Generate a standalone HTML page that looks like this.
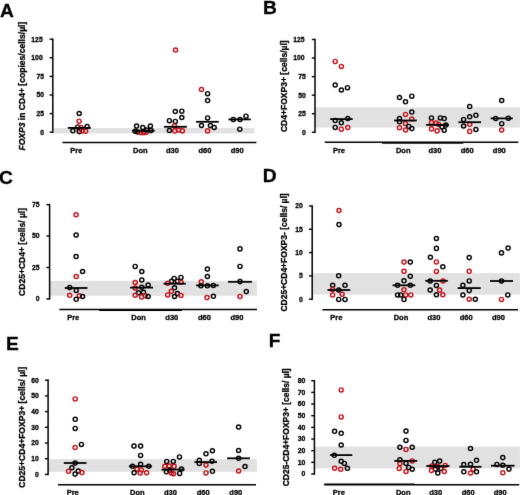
<!DOCTYPE html>
<html><head><meta charset="utf-8"><style>
html,body{margin:0;padding:0;background:#fff;}
svg{display:block;}
text{font-family:"Liberation Sans", sans-serif;fill:#000;stroke:#000;stroke-width:0.3px;stroke-linejoin:round;}
</style></head><body>
<svg width="520" height="495" viewBox="0 0 520 495">
<defs><filter id="sb" x="-5%" y="-5%" width="110%" height="110%" color-interpolation-filters="sRGB"><feConvolveMatrix order="3" kernelMatrix="0.00524 0.06192 0.00524 0.06192 0.73137 0.06192 0.00524 0.06192 0.00524" edgeMode="duplicate" preserveAlpha="false"/></filter></defs>
<rect width="520" height="495" fill="#fff"/>
<g filter="url(#sb)">
<text x="0.1" y="16.5" font-size="19.2" font-weight="bold" text-anchor="start" >A</text>
<text transform="translate(25.0,86.15) rotate(-90)" x="0" y="0" font-size="8.9" font-weight="bold" text-anchor="middle" textLength="128.9" lengthAdjust="spacingAndGlyphs"><tspan font-style="italic">FOXP3</tspan> in CD4+ [copies/cells/µl]</text>
<rect x="53.5" y="128" width="200.80" height="5.40" fill="#e1e1e1"/>
<line x1="52.8" y1="38.449999999999974" x2="52.8" y2="132.95" stroke="#000" stroke-width="1.5"/>
<line x1="49.599999999999994" y1="39.199999999999974" x2="52.8" y2="39.199999999999974" stroke="#000" stroke-width="1.4"/>
<text x="42.7" y="41.6" font-size="6.8" font-weight="bold" text-anchor="end" >125</text>
<line x1="49.599999999999994" y1="57.79999999999998" x2="52.8" y2="57.79999999999998" stroke="#000" stroke-width="1.4"/>
<text x="42.7" y="60.2" font-size="6.8" font-weight="bold" text-anchor="end" >100</text>
<line x1="49.599999999999994" y1="76.39999999999998" x2="52.8" y2="76.39999999999998" stroke="#000" stroke-width="1.4"/>
<text x="44.0" y="78.8" font-size="6.8" font-weight="bold" text-anchor="end" >75</text>
<line x1="49.599999999999994" y1="94.99999999999999" x2="52.8" y2="94.99999999999999" stroke="#000" stroke-width="1.4"/>
<text x="44.0" y="97.4" font-size="6.8" font-weight="bold" text-anchor="end" >50</text>
<line x1="49.599999999999994" y1="113.6" x2="52.8" y2="113.6" stroke="#000" stroke-width="1.4"/>
<text x="44.0" y="116.0" font-size="6.8" font-weight="bold" text-anchor="end" >25</text>
<line x1="49.599999999999994" y1="132.2" x2="52.8" y2="132.2" stroke="#000" stroke-width="1.4"/>
<text x="44.0" y="134.6" font-size="6.8" font-weight="bold" text-anchor="end" >0</text>
<line x1="62.5" y1="142.4" x2="256.4" y2="142.4" stroke="#000" stroke-width="1.5"/>
<text x="76.2" y="152.5" font-size="7.5" font-weight="bold" text-anchor="middle" >Pre</text>
<text x="140.3" y="152.5" font-size="7.5" font-weight="bold" text-anchor="middle" >Don</text>
<text x="172.4" y="152.5" font-size="7.5" font-weight="bold" text-anchor="middle" >d30</text>
<text x="204.9" y="152.5" font-size="7.5" font-weight="bold" text-anchor="middle" >d60</text>
<text x="237.2" y="152.5" font-size="7.5" font-weight="bold" text-anchor="middle" >d90</text>
<text x="262.9" y="13.5" font-size="19.2" font-weight="bold" text-anchor="start" >B</text>
<text transform="translate(287.2,86.2) rotate(-90)" x="0" y="0" font-size="8.9" font-weight="bold" text-anchor="middle" textLength="91.8" lengthAdjust="spacingAndGlyphs">CD4+FOXP3+ [cells/µl]</text>
<rect x="315" y="107.3" width="205.00" height="20.30" fill="#e1e1e1"/>
<line x1="315.0" y1="38.750000000000014" x2="315.0" y2="133.05" stroke="#000" stroke-width="1.5"/>
<line x1="311.8" y1="39.500000000000014" x2="315.0" y2="39.500000000000014" stroke="#000" stroke-width="1.4"/>
<text x="304.5" y="41.9" font-size="6.8" font-weight="bold" text-anchor="end" >125</text>
<line x1="311.8" y1="58.06000000000002" x2="315.0" y2="58.06000000000002" stroke="#000" stroke-width="1.4"/>
<text x="304.5" y="60.46" font-size="6.8" font-weight="bold" text-anchor="end" >100</text>
<line x1="311.8" y1="76.62000000000002" x2="315.0" y2="76.62000000000002" stroke="#000" stroke-width="1.4"/>
<text x="305.8" y="79.02" font-size="6.8" font-weight="bold" text-anchor="end" >75</text>
<line x1="311.8" y1="95.18" x2="315.0" y2="95.18" stroke="#000" stroke-width="1.4"/>
<text x="305.8" y="97.58" font-size="6.8" font-weight="bold" text-anchor="end" >50</text>
<line x1="311.8" y1="113.74000000000001" x2="315.0" y2="113.74000000000001" stroke="#000" stroke-width="1.4"/>
<text x="305.8" y="116.14" font-size="6.8" font-weight="bold" text-anchor="end" >25</text>
<line x1="311.8" y1="132.3" x2="315.0" y2="132.3" stroke="#000" stroke-width="1.4"/>
<text x="305.8" y="134.7" font-size="6.8" font-weight="bold" text-anchor="end" >0</text>
<line x1="324.8" y1="142.2" x2="518.4" y2="142.2" stroke="#000" stroke-width="1.5"/>
<line x1="382" y1="143.0" x2="463.3" y2="143.0" stroke="#000" stroke-width="1.5"/>
<text x="339.0" y="152.9" font-size="7.5" font-weight="bold" text-anchor="middle" >Pre</text>
<text x="403.2" y="152.9" font-size="7.5" font-weight="bold" text-anchor="middle" >Don</text>
<text x="435.0" y="152.9" font-size="7.5" font-weight="bold" text-anchor="middle" >d30</text>
<text x="467.2" y="152.9" font-size="7.5" font-weight="bold" text-anchor="middle" >d60</text>
<text x="499.3" y="152.9" font-size="7.5" font-weight="bold" text-anchor="middle" >d90</text>
<text x="-1.1" y="184.1" font-size="19.2" font-weight="bold" text-anchor="start" >C</text>
<text transform="translate(25.4,251.95) rotate(-90)" x="0" y="0" font-size="8.9" font-weight="bold" text-anchor="middle" textLength="87.9" lengthAdjust="spacingAndGlyphs">CD25+CD4+ [cells/ µl]</text>
<rect x="49.5" y="280.9" width="207.40" height="14.90" fill="#e1e1e1"/>
<line x1="49.6" y1="203.89" x2="49.6" y2="299.65" stroke="#000" stroke-width="1.5"/>
<line x1="46.4" y1="204.64" x2="49.6" y2="204.64" stroke="#000" stroke-width="1.4"/>
<text x="39.6" y="207.04" font-size="6.8" font-weight="bold" text-anchor="end" >75</text>
<line x1="46.4" y1="236.05999999999997" x2="49.6" y2="236.05999999999997" stroke="#000" stroke-width="1.4"/>
<text x="39.6" y="238.46" font-size="6.8" font-weight="bold" text-anchor="end" >50</text>
<line x1="46.4" y1="267.47999999999996" x2="49.6" y2="267.47999999999996" stroke="#000" stroke-width="1.4"/>
<text x="39.6" y="269.88" font-size="6.8" font-weight="bold" text-anchor="end" >25</text>
<line x1="46.4" y1="298.9" x2="49.6" y2="298.9" stroke="#000" stroke-width="1.4"/>
<text x="39.6" y="301.3" font-size="6.8" font-weight="bold" text-anchor="end" >0</text>
<line x1="59.4" y1="309.4" x2="257" y2="309.4" stroke="#000" stroke-width="1.5"/>
<line x1="99.2" y1="310.2" x2="182" y2="310.2" stroke="#000" stroke-width="1.5"/>
<text x="73.2" y="320.1" font-size="7.5" font-weight="bold" text-anchor="middle" >Pre</text>
<text x="138.6" y="320.1" font-size="7.5" font-weight="bold" text-anchor="middle" >Don</text>
<text x="171.8" y="320.1" font-size="7.5" font-weight="bold" text-anchor="middle" >d30</text>
<text x="204.5" y="320.1" font-size="7.5" font-weight="bold" text-anchor="middle" >d60</text>
<text x="237.0" y="320.1" font-size="7.5" font-weight="bold" text-anchor="middle" >d90</text>
<text x="262.7" y="181.6" font-size="19.2" font-weight="bold" text-anchor="start" >D</text>
<text transform="translate(287.4,252.45) rotate(-90)" x="0" y="0" font-size="8.9" font-weight="bold" text-anchor="middle" textLength="118.3" lengthAdjust="spacingAndGlyphs">CD25+CD4+FOXP3- [cells/ µl]</text>
<rect x="312.4" y="273.1" width="207.60" height="21.50" fill="#e1e1e1"/>
<line x1="312.2" y1="205.25" x2="312.2" y2="299.95" stroke="#000" stroke-width="1.5"/>
<line x1="309.0" y1="206.0" x2="312.2" y2="206.0" stroke="#000" stroke-width="1.4"/>
<text x="302.8" y="208.4" font-size="6.8" font-weight="bold" text-anchor="end" >20</text>
<line x1="309.0" y1="229.29999999999998" x2="312.2" y2="229.29999999999998" stroke="#000" stroke-width="1.4"/>
<text x="302.8" y="231.7" font-size="6.8" font-weight="bold" text-anchor="end" >15</text>
<line x1="309.0" y1="252.6" x2="312.2" y2="252.6" stroke="#000" stroke-width="1.4"/>
<text x="302.8" y="255.0" font-size="6.8" font-weight="bold" text-anchor="end" >10</text>
<line x1="309.0" y1="275.9" x2="312.2" y2="275.9" stroke="#000" stroke-width="1.4"/>
<text x="302.8" y="278.3" font-size="6.8" font-weight="bold" text-anchor="end" >5</text>
<line x1="309.0" y1="299.2" x2="312.2" y2="299.2" stroke="#000" stroke-width="1.4"/>
<text x="302.8" y="301.6" font-size="6.8" font-weight="bold" text-anchor="end" >0</text>
<line x1="322.4" y1="309.8" x2="518" y2="309.8" stroke="#000" stroke-width="1.5"/>
<text x="336.4" y="320.4" font-size="7.5" font-weight="bold" text-anchor="middle" >Pre</text>
<text x="401.0" y="320.4" font-size="7.5" font-weight="bold" text-anchor="middle" >Don</text>
<text x="434.0" y="320.4" font-size="7.5" font-weight="bold" text-anchor="middle" >d30</text>
<text x="466.2" y="320.4" font-size="7.5" font-weight="bold" text-anchor="middle" >d60</text>
<text x="498.4" y="320.4" font-size="7.5" font-weight="bold" text-anchor="middle" >d90</text>
<text x="5.9" y="349.8" font-size="19.2" font-weight="bold" text-anchor="start" >E</text>
<text transform="translate(25.4,427.25) rotate(-90)" x="0" y="0" font-size="8.9" font-weight="bold" text-anchor="middle" textLength="121.1" lengthAdjust="spacingAndGlyphs">CD25+CD4+FOXP3+ [cells/ µl]</text>
<rect x="48.3" y="459.1" width="208.60" height="12.80" fill="#e1e1e1"/>
<line x1="48.1" y1="379.45" x2="48.1" y2="475.15" stroke="#000" stroke-width="1.5"/>
<line x1="44.9" y1="380.2" x2="48.1" y2="380.2" stroke="#000" stroke-width="1.4"/>
<text x="38.8" y="382.6" font-size="6.8" font-weight="bold" text-anchor="end" >60</text>
<line x1="44.9" y1="395.9" x2="48.1" y2="395.9" stroke="#000" stroke-width="1.4"/>
<text x="38.8" y="398.3" font-size="6.8" font-weight="bold" text-anchor="end" >50</text>
<line x1="44.9" y1="411.59999999999997" x2="48.1" y2="411.59999999999997" stroke="#000" stroke-width="1.4"/>
<text x="38.8" y="414.0" font-size="6.8" font-weight="bold" text-anchor="end" >40</text>
<line x1="44.9" y1="427.29999999999995" x2="48.1" y2="427.29999999999995" stroke="#000" stroke-width="1.4"/>
<text x="38.8" y="429.7" font-size="6.8" font-weight="bold" text-anchor="end" >30</text>
<line x1="44.9" y1="443.0" x2="48.1" y2="443.0" stroke="#000" stroke-width="1.4"/>
<text x="38.8" y="445.4" font-size="6.8" font-weight="bold" text-anchor="end" >20</text>
<line x1="44.9" y1="458.7" x2="48.1" y2="458.7" stroke="#000" stroke-width="1.4"/>
<text x="38.8" y="461.1" font-size="6.8" font-weight="bold" text-anchor="end" >10</text>
<line x1="44.9" y1="474.4" x2="48.1" y2="474.4" stroke="#000" stroke-width="1.4"/>
<text x="38.8" y="476.8" font-size="6.8" font-weight="bold" text-anchor="end" >0</text>
<line x1="58" y1="484.8" x2="256" y2="484.8" stroke="#000" stroke-width="1.5"/>
<text x="72.7" y="495.0" font-size="7.5" font-weight="bold" text-anchor="middle" >Pre</text>
<text x="137.4" y="495.0" font-size="7.5" font-weight="bold" text-anchor="middle" >Don</text>
<text x="170.4" y="495.0" font-size="7.5" font-weight="bold" text-anchor="middle" >d30</text>
<text x="203.1" y="495.0" font-size="7.5" font-weight="bold" text-anchor="middle" >d60</text>
<text x="235.8" y="495.0" font-size="7.5" font-weight="bold" text-anchor="middle" >d90</text>
<text x="268.7" y="347.4" font-size="19.2" font-weight="bold" text-anchor="start" >F</text>
<text transform="translate(289.2,427.3) rotate(-90)" x="0" y="0" font-size="8.9" font-weight="bold" text-anchor="middle" textLength="118.0" lengthAdjust="spacingAndGlyphs">CD25-CD4+FOXP3+ [cells/ µl]</text>
<rect x="314.4" y="446.6" width="205.60" height="21.80" fill="#e1e1e1"/>
<line x1="314.4" y1="379.97" x2="314.4" y2="474.75" stroke="#000" stroke-width="1.5"/>
<line x1="311.2" y1="380.72" x2="314.4" y2="380.72" stroke="#000" stroke-width="1.4"/>
<text x="305.4" y="383.12" font-size="6.8" font-weight="bold" text-anchor="end" >80</text>
<line x1="311.2" y1="392.38" x2="314.4" y2="392.38" stroke="#000" stroke-width="1.4"/>
<text x="305.4" y="394.78" font-size="6.8" font-weight="bold" text-anchor="end" >70</text>
<line x1="311.2" y1="404.04" x2="314.4" y2="404.04" stroke="#000" stroke-width="1.4"/>
<text x="305.4" y="406.44" font-size="6.8" font-weight="bold" text-anchor="end" >60</text>
<line x1="311.2" y1="415.7" x2="314.4" y2="415.7" stroke="#000" stroke-width="1.4"/>
<text x="305.4" y="418.1" font-size="6.8" font-weight="bold" text-anchor="end" >50</text>
<line x1="311.2" y1="427.36" x2="314.4" y2="427.36" stroke="#000" stroke-width="1.4"/>
<text x="305.4" y="429.76" font-size="6.8" font-weight="bold" text-anchor="end" >40</text>
<line x1="311.2" y1="439.02" x2="314.4" y2="439.02" stroke="#000" stroke-width="1.4"/>
<text x="305.4" y="441.42" font-size="6.8" font-weight="bold" text-anchor="end" >30</text>
<line x1="311.2" y1="450.68" x2="314.4" y2="450.68" stroke="#000" stroke-width="1.4"/>
<text x="305.4" y="453.08" font-size="6.8" font-weight="bold" text-anchor="end" >20</text>
<line x1="311.2" y1="462.34" x2="314.4" y2="462.34" stroke="#000" stroke-width="1.4"/>
<text x="305.4" y="464.74" font-size="6.8" font-weight="bold" text-anchor="end" >10</text>
<line x1="311.2" y1="474.0" x2="314.4" y2="474.0" stroke="#000" stroke-width="1.4"/>
<text x="305.4" y="476.4" font-size="6.8" font-weight="bold" text-anchor="end" >0</text>
<line x1="324.2" y1="484.7" x2="519.2" y2="484.7" stroke="#000" stroke-width="1.5"/>
<line x1="324.2" y1="484.2" x2="414.6" y2="484.2" stroke="#000" stroke-width="1.2"/>
<text x="338.9" y="495.0" font-size="7.5" font-weight="bold" text-anchor="middle" >Pre</text>
<text x="403.2" y="495.0" font-size="7.5" font-weight="bold" text-anchor="middle" >Don</text>
<text x="435.6" y="495.0" font-size="7.5" font-weight="bold" text-anchor="middle" >d30</text>
<text x="468.1" y="495.0" font-size="7.5" font-weight="bold" text-anchor="middle" >d60</text>
<text x="500.1" y="495.0" font-size="7.5" font-weight="bold" text-anchor="middle" >d90</text>
<circle cx="79.2" cy="113.5" r="2.05" fill="none" stroke="#000" stroke-width="1.45"/>
<circle cx="79.1" cy="121.2" r="2.05" fill="none" stroke="#c41119" stroke-width="1.45"/>
<circle cx="77.8" cy="126.9" r="2.05" fill="none" stroke="#000" stroke-width="1.45"/>
<circle cx="80.9" cy="127.4" r="2.05" fill="none" stroke="#c41119" stroke-width="1.45"/>
<circle cx="87.1" cy="126.5" r="2.05" fill="none" stroke="#000" stroke-width="1.45"/>
<circle cx="72.9" cy="130.8" r="2.05" fill="none" stroke="#000" stroke-width="1.45"/>
<circle cx="79.3" cy="131.6" r="2.05" fill="none" stroke="#000" stroke-width="1.45"/>
<circle cx="82.0" cy="131.0" r="2.05" fill="none" stroke="#c41119" stroke-width="1.45"/>
<circle cx="85.6" cy="131.2" r="2.05" fill="none" stroke="#c41119" stroke-width="1.45"/>
<circle cx="136.6" cy="126.1" r="2.05" fill="none" stroke="#000" stroke-width="1.45"/>
<circle cx="150.4" cy="126.1" r="2.05" fill="none" stroke="#000" stroke-width="1.45"/>
<circle cx="142.8" cy="127.6" r="2.05" fill="none" stroke="#000" stroke-width="1.45"/>
<circle cx="135.2" cy="131.2" r="2.05" fill="none" stroke="#000" stroke-width="1.45"/>
<circle cx="137.6" cy="132.0" r="2.05" fill="none" stroke="#000" stroke-width="1.45"/>
<circle cx="140.6" cy="132.6" r="2.05" fill="none" stroke="#c41119" stroke-width="1.45"/>
<circle cx="143.4" cy="132.8" r="2.05" fill="none" stroke="#c41119" stroke-width="1.45"/>
<circle cx="146.0" cy="132.4" r="2.05" fill="none" stroke="#c41119" stroke-width="1.45"/>
<circle cx="146.8" cy="130.0" r="2.05" fill="none" stroke="#000" stroke-width="1.45"/>
<circle cx="151.0" cy="130.6" r="2.05" fill="none" stroke="#000" stroke-width="1.45"/>
<circle cx="175.5" cy="50.1" r="2.05" fill="none" stroke="#c41119" stroke-width="1.45"/>
<circle cx="175.3" cy="111.5" r="2.05" fill="none" stroke="#000" stroke-width="1.45"/>
<circle cx="181.8" cy="111.2" r="2.05" fill="none" stroke="#000" stroke-width="1.45"/>
<circle cx="181.8" cy="117.5" r="2.05" fill="none" stroke="#000" stroke-width="1.45"/>
<circle cx="169.4" cy="120.7" r="2.05" fill="none" stroke="#000" stroke-width="1.45"/>
<circle cx="175.3" cy="121.4" r="2.05" fill="none" stroke="#000" stroke-width="1.45"/>
<circle cx="174.4" cy="125.9" r="2.05" fill="none" stroke="#c41119" stroke-width="1.45"/>
<circle cx="169.4" cy="130.5" r="2.05" fill="none" stroke="#000" stroke-width="1.45"/>
<circle cx="174.8" cy="130.9" r="2.05" fill="none" stroke="#c41119" stroke-width="1.45"/>
<circle cx="178.5" cy="130.0" r="2.05" fill="none" stroke="#c41119" stroke-width="1.45"/>
<circle cx="182.4" cy="130.9" r="2.05" fill="none" stroke="#c41119" stroke-width="1.45"/>
<circle cx="201.5" cy="89.5" r="2.05" fill="none" stroke="#c41119" stroke-width="1.45"/>
<circle cx="207.6" cy="93.7" r="2.05" fill="none" stroke="#000" stroke-width="1.45"/>
<circle cx="207.6" cy="100.6" r="2.05" fill="none" stroke="#000" stroke-width="1.45"/>
<circle cx="207.6" cy="117.9" r="2.05" fill="none" stroke="#000" stroke-width="1.45"/>
<circle cx="201.5" cy="125.5" r="2.05" fill="none" stroke="#000" stroke-width="1.45"/>
<circle cx="210.4" cy="125.5" r="2.05" fill="none" stroke="#000" stroke-width="1.45"/>
<circle cx="214.2" cy="127.5" r="2.05" fill="none" stroke="#000" stroke-width="1.45"/>
<circle cx="207.6" cy="130.9" r="2.05" fill="none" stroke="#c41119" stroke-width="1.45"/>
<circle cx="233.3" cy="119.4" r="2.05" fill="none" stroke="#000" stroke-width="1.45"/>
<circle cx="240.0" cy="119.5" r="2.05" fill="none" stroke="#000" stroke-width="1.45"/>
<circle cx="246.0" cy="116.2" r="2.05" fill="none" stroke="#000" stroke-width="1.45"/>
<circle cx="239.8" cy="129.2" r="2.05" fill="none" stroke="#000" stroke-width="1.45"/>
<circle cx="335.2" cy="61.4" r="2.05" fill="none" stroke="#c41119" stroke-width="1.45"/>
<circle cx="341.4" cy="66.4" r="2.05" fill="none" stroke="#c41119" stroke-width="1.45"/>
<circle cx="335.2" cy="85.0" r="2.05" fill="none" stroke="#000" stroke-width="1.45"/>
<circle cx="341.4" cy="90.0" r="2.05" fill="none" stroke="#000" stroke-width="1.45"/>
<circle cx="347.5" cy="87.7" r="2.05" fill="none" stroke="#000" stroke-width="1.45"/>
<circle cx="335.2" cy="120.6" r="2.05" fill="none" stroke="#000" stroke-width="1.45"/>
<circle cx="341.3" cy="122.8" r="2.05" fill="none" stroke="#000" stroke-width="1.45"/>
<circle cx="347.8" cy="118.5" r="2.05" fill="none" stroke="#000" stroke-width="1.45"/>
<circle cx="335.2" cy="127.4" r="2.05" fill="none" stroke="#000" stroke-width="1.45"/>
<circle cx="341.3" cy="129.2" r="2.05" fill="none" stroke="#c41119" stroke-width="1.45"/>
<circle cx="347.8" cy="127.6" r="2.05" fill="none" stroke="#c41119" stroke-width="1.45"/>
<circle cx="399.5" cy="97.5" r="2.05" fill="none" stroke="#000" stroke-width="1.45"/>
<circle cx="405.5" cy="101.8" r="2.05" fill="none" stroke="#000" stroke-width="1.45"/>
<circle cx="411.8" cy="96.2" r="2.05" fill="none" stroke="#000" stroke-width="1.45"/>
<circle cx="411.8" cy="112.1" r="2.05" fill="none" stroke="#000" stroke-width="1.45"/>
<circle cx="405.5" cy="114.4" r="2.05" fill="none" stroke="#c41119" stroke-width="1.45"/>
<circle cx="399.5" cy="118.6" r="2.05" fill="none" stroke="#000" stroke-width="1.45"/>
<circle cx="411.8" cy="119.1" r="2.05" fill="none" stroke="#c41119" stroke-width="1.45"/>
<circle cx="399.5" cy="121.8" r="2.05" fill="none" stroke="#000" stroke-width="1.45"/>
<circle cx="405.5" cy="123.6" r="2.05" fill="none" stroke="#c41119" stroke-width="1.45"/>
<circle cx="408.8" cy="126.4" r="2.05" fill="none" stroke="#000" stroke-width="1.45"/>
<circle cx="411.8" cy="128.6" r="2.05" fill="none" stroke="#000" stroke-width="1.45"/>
<circle cx="399.5" cy="127.7" r="2.05" fill="none" stroke="#c41119" stroke-width="1.45"/>
<circle cx="405.5" cy="130.0" r="2.05" fill="none" stroke="#c41119" stroke-width="1.45"/>
<circle cx="431.5" cy="117.9" r="2.05" fill="none" stroke="#000" stroke-width="1.45"/>
<circle cx="440.4" cy="117.9" r="2.05" fill="none" stroke="#000" stroke-width="1.45"/>
<circle cx="444.2" cy="118.6" r="2.05" fill="none" stroke="#000" stroke-width="1.45"/>
<circle cx="431.5" cy="122.5" r="2.05" fill="none" stroke="#c41119" stroke-width="1.45"/>
<circle cx="436.2" cy="123.1" r="2.05" fill="none" stroke="#c41119" stroke-width="1.45"/>
<circle cx="438.7" cy="124.4" r="2.05" fill="none" stroke="#c41119" stroke-width="1.45"/>
<circle cx="445.9" cy="125.0" r="2.05" fill="none" stroke="#000" stroke-width="1.45"/>
<circle cx="442.0" cy="127.0" r="2.05" fill="none" stroke="#000" stroke-width="1.45"/>
<circle cx="431.5" cy="128.9" r="2.05" fill="none" stroke="#c41119" stroke-width="1.45"/>
<circle cx="437.1" cy="130.9" r="2.05" fill="none" stroke="#c41119" stroke-width="1.45"/>
<circle cx="444.2" cy="130.2" r="2.05" fill="none" stroke="#000" stroke-width="1.45"/>
<circle cx="469.7" cy="106.6" r="2.05" fill="none" stroke="#000" stroke-width="1.45"/>
<circle cx="475.9" cy="115.3" r="2.05" fill="none" stroke="#000" stroke-width="1.45"/>
<circle cx="469.7" cy="116.8" r="2.05" fill="none" stroke="#000" stroke-width="1.45"/>
<circle cx="463.6" cy="119.6" r="2.05" fill="none" stroke="#000" stroke-width="1.45"/>
<circle cx="469.7" cy="124.3" r="2.05" fill="none" stroke="#c41119" stroke-width="1.45"/>
<circle cx="463.6" cy="126.0" r="2.05" fill="none" stroke="#000" stroke-width="1.45"/>
<circle cx="475.9" cy="129.5" r="2.05" fill="none" stroke="#000" stroke-width="1.45"/>
<circle cx="469.7" cy="131.4" r="2.05" fill="none" stroke="#c41119" stroke-width="1.45"/>
<circle cx="501.7" cy="100.5" r="2.05" fill="none" stroke="#000" stroke-width="1.45"/>
<circle cx="495.7" cy="118.4" r="2.05" fill="none" stroke="#000" stroke-width="1.45"/>
<circle cx="508.3" cy="118.2" r="2.05" fill="none" stroke="#000" stroke-width="1.45"/>
<circle cx="501.7" cy="123.7" r="2.05" fill="none" stroke="#000" stroke-width="1.45"/>
<circle cx="501.7" cy="130.1" r="2.05" fill="none" stroke="#c41119" stroke-width="1.45"/>
<circle cx="76.1" cy="214.7" r="2.05" fill="none" stroke="#c41119" stroke-width="1.45"/>
<circle cx="76.1" cy="235.1" r="2.05" fill="none" stroke="#000" stroke-width="1.45"/>
<circle cx="76.1" cy="256.5" r="2.05" fill="none" stroke="#000" stroke-width="1.45"/>
<circle cx="82.6" cy="271.5" r="2.05" fill="none" stroke="#000" stroke-width="1.45"/>
<circle cx="76.2" cy="276.5" r="2.05" fill="none" stroke="#c41119" stroke-width="1.45"/>
<circle cx="69.7" cy="287.6" r="2.05" fill="none" stroke="#000" stroke-width="1.45"/>
<circle cx="76.2" cy="290.5" r="2.05" fill="none" stroke="#000" stroke-width="1.45"/>
<circle cx="69.7" cy="295.3" r="2.05" fill="none" stroke="#c41119" stroke-width="1.45"/>
<circle cx="79.4" cy="295.7" r="2.05" fill="none" stroke="#c41119" stroke-width="1.45"/>
<circle cx="82.6" cy="296.5" r="2.05" fill="none" stroke="#000" stroke-width="1.45"/>
<circle cx="76.2" cy="299.3" r="2.05" fill="none" stroke="#000" stroke-width="1.45"/>
<circle cx="135.2" cy="266.4" r="2.05" fill="none" stroke="#000" stroke-width="1.45"/>
<circle cx="141.8" cy="271.5" r="2.05" fill="none" stroke="#000" stroke-width="1.45"/>
<circle cx="141.8" cy="280.0" r="2.05" fill="none" stroke="#000" stroke-width="1.45"/>
<circle cx="135.2" cy="282.5" r="2.05" fill="none" stroke="#c41119" stroke-width="1.45"/>
<circle cx="148.1" cy="285.0" r="2.05" fill="none" stroke="#000" stroke-width="1.45"/>
<circle cx="141.8" cy="287.3" r="2.05" fill="none" stroke="#000" stroke-width="1.45"/>
<circle cx="135.2" cy="288.0" r="2.05" fill="none" stroke="#c41119" stroke-width="1.45"/>
<circle cx="138.6" cy="292.7" r="2.05" fill="none" stroke="#000" stroke-width="1.45"/>
<circle cx="143.5" cy="292.3" r="2.05" fill="none" stroke="#000" stroke-width="1.45"/>
<circle cx="135.2" cy="295.2" r="2.05" fill="none" stroke="#c41119" stroke-width="1.45"/>
<circle cx="141.6" cy="296.9" r="2.05" fill="none" stroke="#c41119" stroke-width="1.45"/>
<circle cx="145.2" cy="295.7" r="2.05" fill="none" stroke="#c41119" stroke-width="1.45"/>
<circle cx="148.1" cy="296.5" r="2.05" fill="none" stroke="#000" stroke-width="1.45"/>
<circle cx="174.2" cy="278.4" r="2.05" fill="none" stroke="#000" stroke-width="1.45"/>
<circle cx="181.0" cy="277.4" r="2.05" fill="none" stroke="#000" stroke-width="1.45"/>
<circle cx="171.6" cy="281.3" r="2.05" fill="none" stroke="#000" stroke-width="1.45"/>
<circle cx="177.4" cy="281.3" r="2.05" fill="none" stroke="#000" stroke-width="1.45"/>
<circle cx="167.7" cy="283.3" r="2.05" fill="none" stroke="#c41119" stroke-width="1.45"/>
<circle cx="181.0" cy="282.3" r="2.05" fill="none" stroke="#c41119" stroke-width="1.45"/>
<circle cx="174.5" cy="287.8" r="2.05" fill="none" stroke="#000" stroke-width="1.45"/>
<circle cx="171.3" cy="291.3" r="2.05" fill="none" stroke="#c41119" stroke-width="1.45"/>
<circle cx="167.7" cy="294.9" r="2.05" fill="none" stroke="#c41119" stroke-width="1.45"/>
<circle cx="177.4" cy="293.6" r="2.05" fill="none" stroke="#000" stroke-width="1.45"/>
<circle cx="174.5" cy="296.5" r="2.05" fill="none" stroke="#000" stroke-width="1.45"/>
<circle cx="181.0" cy="295.5" r="2.05" fill="none" stroke="#c41119" stroke-width="1.45"/>
<circle cx="207.4" cy="269.1" r="2.05" fill="none" stroke="#000" stroke-width="1.45"/>
<circle cx="207.4" cy="276.5" r="2.05" fill="none" stroke="#000" stroke-width="1.45"/>
<circle cx="201.3" cy="281.8" r="2.05" fill="none" stroke="#c41119" stroke-width="1.45"/>
<circle cx="200.9" cy="285.8" r="2.05" fill="none" stroke="#000" stroke-width="1.45"/>
<circle cx="207.4" cy="285.8" r="2.05" fill="none" stroke="#000" stroke-width="1.45"/>
<circle cx="213.4" cy="285.4" r="2.05" fill="none" stroke="#000" stroke-width="1.45"/>
<circle cx="207.0" cy="297.6" r="2.05" fill="none" stroke="#c41119" stroke-width="1.45"/>
<circle cx="213.4" cy="296.3" r="2.05" fill="none" stroke="#000" stroke-width="1.45"/>
<circle cx="240.0" cy="248.9" r="2.05" fill="none" stroke="#000" stroke-width="1.45"/>
<circle cx="240.0" cy="266.4" r="2.05" fill="none" stroke="#000" stroke-width="1.45"/>
<circle cx="240.0" cy="281.6" r="2.05" fill="none" stroke="#000" stroke-width="1.45"/>
<circle cx="246.3" cy="291.6" r="2.05" fill="none" stroke="#000" stroke-width="1.45"/>
<circle cx="240.0" cy="296.4" r="2.05" fill="none" stroke="#c41119" stroke-width="1.45"/>
<circle cx="339.0" cy="210.5" r="2.05" fill="none" stroke="#c41119" stroke-width="1.45"/>
<circle cx="339.0" cy="224.6" r="2.05" fill="none" stroke="#000" stroke-width="1.45"/>
<circle cx="338.7" cy="275.8" r="2.05" fill="none" stroke="#000" stroke-width="1.45"/>
<circle cx="332.7" cy="285.2" r="2.05" fill="none" stroke="#000" stroke-width="1.45"/>
<circle cx="345.0" cy="285.3" r="2.05" fill="none" stroke="#000" stroke-width="1.45"/>
<circle cx="338.7" cy="290.0" r="2.05" fill="none" stroke="#000" stroke-width="1.45"/>
<circle cx="332.6" cy="289.6" r="2.05" fill="none" stroke="#c41119" stroke-width="1.45"/>
<circle cx="332.6" cy="294.9" r="2.05" fill="none" stroke="#c41119" stroke-width="1.45"/>
<circle cx="342.1" cy="294.2" r="2.05" fill="none" stroke="#c41119" stroke-width="1.45"/>
<circle cx="338.7" cy="299.4" r="2.05" fill="none" stroke="#000" stroke-width="1.45"/>
<circle cx="345.0" cy="299.4" r="2.05" fill="none" stroke="#000" stroke-width="1.45"/>
<circle cx="404.0" cy="262.1" r="2.05" fill="none" stroke="#c41119" stroke-width="1.45"/>
<circle cx="410.3" cy="262.1" r="2.05" fill="none" stroke="#000" stroke-width="1.45"/>
<circle cx="404.0" cy="271.2" r="2.05" fill="none" stroke="#c41119" stroke-width="1.45"/>
<circle cx="410.3" cy="276.2" r="2.05" fill="none" stroke="#000" stroke-width="1.45"/>
<circle cx="404.0" cy="280.8" r="2.05" fill="none" stroke="#000" stroke-width="1.45"/>
<circle cx="397.6" cy="285.3" r="2.05" fill="none" stroke="#000" stroke-width="1.45"/>
<circle cx="410.3" cy="285.3" r="2.05" fill="none" stroke="#000" stroke-width="1.45"/>
<circle cx="404.0" cy="289.8" r="2.05" fill="none" stroke="#c41119" stroke-width="1.45"/>
<circle cx="397.6" cy="294.9" r="2.05" fill="none" stroke="#000" stroke-width="1.45"/>
<circle cx="400.7" cy="294.9" r="2.05" fill="none" stroke="#000" stroke-width="1.45"/>
<circle cx="405.7" cy="294.9" r="2.05" fill="none" stroke="#c41119" stroke-width="1.45"/>
<circle cx="410.8" cy="294.9" r="2.05" fill="none" stroke="#c41119" stroke-width="1.45"/>
<circle cx="404.0" cy="299.4" r="2.05" fill="none" stroke="#000" stroke-width="1.45"/>
<circle cx="436.4" cy="238.5" r="2.05" fill="none" stroke="#000" stroke-width="1.45"/>
<circle cx="436.4" cy="248.4" r="2.05" fill="none" stroke="#000" stroke-width="1.45"/>
<circle cx="430.4" cy="257.3" r="2.05" fill="none" stroke="#000" stroke-width="1.45"/>
<circle cx="436.4" cy="261.9" r="2.05" fill="none" stroke="#c41119" stroke-width="1.45"/>
<circle cx="442.8" cy="266.8" r="2.05" fill="none" stroke="#000" stroke-width="1.45"/>
<circle cx="436.4" cy="271.4" r="2.05" fill="none" stroke="#c41119" stroke-width="1.45"/>
<circle cx="430.2" cy="281.0" r="2.05" fill="none" stroke="#000" stroke-width="1.45"/>
<circle cx="443.0" cy="281.0" r="2.05" fill="none" stroke="#c41119" stroke-width="1.45"/>
<circle cx="436.4" cy="285.4" r="2.05" fill="none" stroke="#000" stroke-width="1.45"/>
<circle cx="430.2" cy="290.1" r="2.05" fill="none" stroke="#000" stroke-width="1.45"/>
<circle cx="439.6" cy="290.1" r="2.05" fill="none" stroke="#c41119" stroke-width="1.45"/>
<circle cx="436.4" cy="294.7" r="2.05" fill="none" stroke="#000" stroke-width="1.45"/>
<circle cx="442.8" cy="294.7" r="2.05" fill="none" stroke="#c41119" stroke-width="1.45"/>
<circle cx="469.2" cy="257.6" r="2.05" fill="none" stroke="#000" stroke-width="1.45"/>
<circle cx="469.2" cy="271.3" r="2.05" fill="none" stroke="#c41119" stroke-width="1.45"/>
<circle cx="469.2" cy="280.9" r="2.05" fill="none" stroke="#000" stroke-width="1.45"/>
<circle cx="462.9" cy="285.3" r="2.05" fill="none" stroke="#000" stroke-width="1.45"/>
<circle cx="469.2" cy="290.6" r="2.05" fill="none" stroke="#000" stroke-width="1.45"/>
<circle cx="462.9" cy="295.0" r="2.05" fill="none" stroke="#000" stroke-width="1.45"/>
<circle cx="469.2" cy="299.2" r="2.05" fill="none" stroke="#c41119" stroke-width="1.45"/>
<circle cx="475.3" cy="299.2" r="2.05" fill="none" stroke="#000" stroke-width="1.45"/>
<circle cx="501.5" cy="252.9" r="2.05" fill="none" stroke="#000" stroke-width="1.45"/>
<circle cx="508.1" cy="248.1" r="2.05" fill="none" stroke="#000" stroke-width="1.45"/>
<circle cx="501.5" cy="281.0" r="2.05" fill="none" stroke="#000" stroke-width="1.45"/>
<circle cx="507.8" cy="294.9" r="2.05" fill="none" stroke="#000" stroke-width="1.45"/>
<circle cx="501.5" cy="299.4" r="2.05" fill="none" stroke="#c41119" stroke-width="1.45"/>
<circle cx="75.2" cy="398.9" r="2.05" fill="none" stroke="#c41119" stroke-width="1.45"/>
<circle cx="75.2" cy="419.3" r="2.05" fill="none" stroke="#000" stroke-width="1.45"/>
<circle cx="75.2" cy="428.4" r="2.05" fill="none" stroke="#000" stroke-width="1.45"/>
<circle cx="81.4" cy="444.4" r="2.05" fill="none" stroke="#000" stroke-width="1.45"/>
<circle cx="75.1" cy="447.5" r="2.05" fill="none" stroke="#c41119" stroke-width="1.45"/>
<circle cx="75.1" cy="463.0" r="2.05" fill="none" stroke="#000" stroke-width="1.45"/>
<circle cx="71.9" cy="467.7" r="2.05" fill="none" stroke="#000" stroke-width="1.45"/>
<circle cx="68.5" cy="471.3" r="2.05" fill="none" stroke="#c41119" stroke-width="1.45"/>
<circle cx="78.3" cy="471.1" r="2.05" fill="none" stroke="#000" stroke-width="1.45"/>
<circle cx="81.9" cy="472.6" r="2.05" fill="none" stroke="#c41119" stroke-width="1.45"/>
<circle cx="75.1" cy="474.1" r="2.05" fill="none" stroke="#000" stroke-width="1.45"/>
<circle cx="134.0" cy="446.1" r="2.05" fill="none" stroke="#000" stroke-width="1.45"/>
<circle cx="140.6" cy="446.1" r="2.05" fill="none" stroke="#000" stroke-width="1.45"/>
<circle cx="140.6" cy="455.4" r="2.05" fill="none" stroke="#000" stroke-width="1.45"/>
<circle cx="132.5" cy="466.3" r="2.05" fill="none" stroke="#000" stroke-width="1.45"/>
<circle cx="140.6" cy="464.2" r="2.05" fill="none" stroke="#000" stroke-width="1.45"/>
<circle cx="148.7" cy="466.3" r="2.05" fill="none" stroke="#000" stroke-width="1.45"/>
<circle cx="137.0" cy="469.1" r="2.05" fill="none" stroke="#c41119" stroke-width="1.45"/>
<circle cx="141.4" cy="469.9" r="2.05" fill="none" stroke="#c41119" stroke-width="1.45"/>
<circle cx="134.1" cy="472.7" r="2.05" fill="none" stroke="#000" stroke-width="1.45"/>
<circle cx="140.2" cy="473.1" r="2.05" fill="none" stroke="#c41119" stroke-width="1.45"/>
<circle cx="146.6" cy="472.7" r="2.05" fill="none" stroke="#c41119" stroke-width="1.45"/>
<circle cx="179.5" cy="456.9" r="2.05" fill="none" stroke="#000" stroke-width="1.45"/>
<circle cx="166.7" cy="461.4" r="2.05" fill="none" stroke="#000" stroke-width="1.45"/>
<circle cx="173.3" cy="461.4" r="2.05" fill="none" stroke="#000" stroke-width="1.45"/>
<circle cx="164.8" cy="466.3" r="2.05" fill="none" stroke="#c41119" stroke-width="1.45"/>
<circle cx="169.2" cy="466.0" r="2.05" fill="none" stroke="#c41119" stroke-width="1.45"/>
<circle cx="174.1" cy="466.3" r="2.05" fill="none" stroke="#c41119" stroke-width="1.45"/>
<circle cx="181.5" cy="469.1" r="2.05" fill="none" stroke="#000" stroke-width="1.45"/>
<circle cx="166.4" cy="471.8" r="2.05" fill="none" stroke="#000" stroke-width="1.45"/>
<circle cx="169.8" cy="470.3" r="2.05" fill="none" stroke="#000" stroke-width="1.45"/>
<circle cx="171.3" cy="473.1" r="2.05" fill="none" stroke="#c41119" stroke-width="1.45"/>
<circle cx="173.5" cy="473.7" r="2.05" fill="none" stroke="#c41119" stroke-width="1.45"/>
<circle cx="179.6" cy="473.4" r="2.05" fill="none" stroke="#000" stroke-width="1.45"/>
<circle cx="212.4" cy="450.7" r="2.05" fill="none" stroke="#000" stroke-width="1.45"/>
<circle cx="206.0" cy="453.8" r="2.05" fill="none" stroke="#000" stroke-width="1.45"/>
<circle cx="199.3" cy="460.2" r="2.05" fill="none" stroke="#000" stroke-width="1.45"/>
<circle cx="199.3" cy="463.4" r="2.05" fill="none" stroke="#000" stroke-width="1.45"/>
<circle cx="212.0" cy="461.3" r="2.05" fill="none" stroke="#000" stroke-width="1.45"/>
<circle cx="206.0" cy="465.1" r="2.05" fill="none" stroke="#c41119" stroke-width="1.45"/>
<circle cx="206.0" cy="472.9" r="2.05" fill="none" stroke="#c41119" stroke-width="1.45"/>
<circle cx="212.4" cy="471.3" r="2.05" fill="none" stroke="#000" stroke-width="1.45"/>
<circle cx="238.6" cy="427.1" r="2.05" fill="none" stroke="#000" stroke-width="1.45"/>
<circle cx="238.6" cy="450.5" r="2.05" fill="none" stroke="#000" stroke-width="1.45"/>
<circle cx="238.6" cy="458.3" r="2.05" fill="none" stroke="#000" stroke-width="1.45"/>
<circle cx="245.0" cy="466.5" r="2.05" fill="none" stroke="#000" stroke-width="1.45"/>
<circle cx="238.6" cy="471.0" r="2.05" fill="none" stroke="#c41119" stroke-width="1.45"/>
<circle cx="341.2" cy="389.9" r="2.05" fill="none" stroke="#c41119" stroke-width="1.45"/>
<circle cx="341.2" cy="416.9" r="2.05" fill="none" stroke="#c41119" stroke-width="1.45"/>
<circle cx="334.6" cy="431.3" r="2.05" fill="none" stroke="#000" stroke-width="1.45"/>
<circle cx="341.2" cy="433.3" r="2.05" fill="none" stroke="#000" stroke-width="1.45"/>
<circle cx="341.2" cy="445.0" r="2.05" fill="none" stroke="#000" stroke-width="1.45"/>
<circle cx="334.3" cy="455.3" r="2.05" fill="none" stroke="#000" stroke-width="1.45"/>
<circle cx="341.2" cy="461.2" r="2.05" fill="none" stroke="#000" stroke-width="1.45"/>
<circle cx="344.4" cy="463.4" r="2.05" fill="none" stroke="#000" stroke-width="1.45"/>
<circle cx="347.4" cy="468.2" r="2.05" fill="none" stroke="#000" stroke-width="1.45"/>
<circle cx="334.6" cy="468.2" r="2.05" fill="none" stroke="#c41119" stroke-width="1.45"/>
<circle cx="340.7" cy="469.2" r="2.05" fill="none" stroke="#c41119" stroke-width="1.45"/>
<circle cx="406.0" cy="431.1" r="2.05" fill="none" stroke="#000" stroke-width="1.45"/>
<circle cx="406.0" cy="440.4" r="2.05" fill="none" stroke="#000" stroke-width="1.45"/>
<circle cx="399.9" cy="447.2" r="2.05" fill="none" stroke="#000" stroke-width="1.45"/>
<circle cx="412.2" cy="447.2" r="2.05" fill="none" stroke="#000" stroke-width="1.45"/>
<circle cx="406.0" cy="449.4" r="2.05" fill="none" stroke="#c41119" stroke-width="1.45"/>
<circle cx="399.9" cy="459.8" r="2.05" fill="none" stroke="#000" stroke-width="1.45"/>
<circle cx="412.2" cy="460.9" r="2.05" fill="none" stroke="#c41119" stroke-width="1.45"/>
<circle cx="399.9" cy="463.6" r="2.05" fill="none" stroke="#c41119" stroke-width="1.45"/>
<circle cx="406.0" cy="463.4" r="2.05" fill="none" stroke="#000" stroke-width="1.45"/>
<circle cx="399.3" cy="468.4" r="2.05" fill="none" stroke="#c41119" stroke-width="1.45"/>
<circle cx="408.7" cy="467.4" r="2.05" fill="none" stroke="#000" stroke-width="1.45"/>
<circle cx="412.2" cy="469.2" r="2.05" fill="none" stroke="#000" stroke-width="1.45"/>
<circle cx="406.0" cy="471.5" r="2.05" fill="none" stroke="#c41119" stroke-width="1.45"/>
<circle cx="434.8" cy="462.3" r="2.05" fill="none" stroke="#000" stroke-width="1.45"/>
<circle cx="439.7" cy="461.1" r="2.05" fill="none" stroke="#000" stroke-width="1.45"/>
<circle cx="431.7" cy="466.0" r="2.05" fill="none" stroke="#c41119" stroke-width="1.45"/>
<circle cx="445.2" cy="465.4" r="2.05" fill="none" stroke="#c41119" stroke-width="1.45"/>
<circle cx="437.8" cy="466.6" r="2.05" fill="none" stroke="#c41119" stroke-width="1.45"/>
<circle cx="435.4" cy="469.1" r="2.05" fill="none" stroke="#000" stroke-width="1.45"/>
<circle cx="440.9" cy="468.5" r="2.05" fill="none" stroke="#000" stroke-width="1.45"/>
<circle cx="431.4" cy="470.6" r="2.05" fill="none" stroke="#c41119" stroke-width="1.45"/>
<circle cx="437.8" cy="473.1" r="2.05" fill="none" stroke="#000" stroke-width="1.45"/>
<circle cx="444.3" cy="471.5" r="2.05" fill="none" stroke="#c41119" stroke-width="1.45"/>
<circle cx="470.5" cy="448.5" r="2.05" fill="none" stroke="#000" stroke-width="1.45"/>
<circle cx="476.5" cy="460.3" r="2.05" fill="none" stroke="#000" stroke-width="1.45"/>
<circle cx="463.8" cy="464.5" r="2.05" fill="none" stroke="#000" stroke-width="1.45"/>
<circle cx="470.5" cy="464.3" r="2.05" fill="none" stroke="#000" stroke-width="1.45"/>
<circle cx="473.1" cy="469.1" r="2.05" fill="none" stroke="#c41119" stroke-width="1.45"/>
<circle cx="463.8" cy="471.8" r="2.05" fill="none" stroke="#000" stroke-width="1.45"/>
<circle cx="470.5" cy="473.0" r="2.05" fill="none" stroke="#c41119" stroke-width="1.45"/>
<circle cx="476.5" cy="471.8" r="2.05" fill="none" stroke="#000" stroke-width="1.45"/>
<circle cx="502.8" cy="457.6" r="2.05" fill="none" stroke="#000" stroke-width="1.45"/>
<circle cx="496.9" cy="464.4" r="2.05" fill="none" stroke="#000" stroke-width="1.45"/>
<circle cx="502.8" cy="465.2" r="2.05" fill="none" stroke="#000" stroke-width="1.45"/>
<circle cx="509.0" cy="469.1" r="2.05" fill="none" stroke="#000" stroke-width="1.45"/>
<circle cx="502.8" cy="472.7" r="2.05" fill="none" stroke="#c41119" stroke-width="1.45"/>
<line x1="67.8" y1="127.9" x2="90.8" y2="127.9" stroke="#000" stroke-width="1.8"/>
<line x1="132.1" y1="130.8" x2="154.6" y2="130.8" stroke="#000" stroke-width="1.8"/>
<line x1="163.9" y1="126.8" x2="186.9" y2="126.8" stroke="#000" stroke-width="1.8"/>
<line x1="196.0" y1="121.8" x2="218.8" y2="121.8" stroke="#000" stroke-width="1.8"/>
<line x1="228.4" y1="119.4" x2="250.8" y2="119.4" stroke="#000" stroke-width="1.8"/>
<line x1="330.2" y1="119.1" x2="352.7" y2="119.1" stroke="#000" stroke-width="1.8"/>
<line x1="394.1" y1="120.5" x2="416.8" y2="120.5" stroke="#000" stroke-width="1.8"/>
<line x1="426.1" y1="124.9" x2="448.8" y2="124.9" stroke="#000" stroke-width="1.8"/>
<line x1="458.4" y1="122.2" x2="481.1" y2="122.2" stroke="#000" stroke-width="1.8"/>
<line x1="490.6" y1="118.4" x2="512.8" y2="118.4" stroke="#000" stroke-width="1.8"/>
<line x1="64.8" y1="288.0" x2="87.5" y2="288.0" stroke="#000" stroke-width="1.8"/>
<line x1="130.1" y1="287.6" x2="153.0" y2="287.6" stroke="#000" stroke-width="1.8"/>
<line x1="163.5" y1="283.7" x2="185.8" y2="283.7" stroke="#000" stroke-width="1.8"/>
<line x1="196.1" y1="285.4" x2="218.7" y2="285.4" stroke="#000" stroke-width="1.8"/>
<line x1="228.1" y1="281.8" x2="251.9" y2="281.8" stroke="#000" stroke-width="1.8"/>
<line x1="327.5" y1="290.0" x2="350.3" y2="290.0" stroke="#000" stroke-width="1.8"/>
<line x1="392.6" y1="285.3" x2="415.3" y2="285.3" stroke="#000" stroke-width="1.8"/>
<line x1="425.3" y1="280.8" x2="447.9" y2="280.8" stroke="#000" stroke-width="1.8"/>
<line x1="457.6" y1="288.1" x2="480.7" y2="288.1" stroke="#000" stroke-width="1.8"/>
<line x1="490.0" y1="281.0" x2="513.0" y2="281.0" stroke="#000" stroke-width="1.8"/>
<line x1="63.8" y1="463.0" x2="86.5" y2="463.0" stroke="#000" stroke-width="1.8"/>
<line x1="128.9" y1="466.3" x2="151.9" y2="466.3" stroke="#000" stroke-width="1.8"/>
<line x1="161.5" y1="469.6" x2="184.5" y2="469.6" stroke="#000" stroke-width="1.8"/>
<line x1="194.4" y1="462.1" x2="217.0" y2="462.1" stroke="#000" stroke-width="1.8"/>
<line x1="227.1" y1="458.3" x2="249.9" y2="458.3" stroke="#000" stroke-width="1.8"/>
<line x1="330.1" y1="455.1" x2="352.3" y2="455.1" stroke="#000" stroke-width="1.8"/>
<line x1="394.3" y1="460.9" x2="417.3" y2="460.9" stroke="#000" stroke-width="1.8"/>
<line x1="426.2" y1="466.0" x2="449.5" y2="466.0" stroke="#000" stroke-width="1.8"/>
<line x1="459.3" y1="466.8" x2="481.5" y2="466.8" stroke="#000" stroke-width="1.8"/>
<line x1="491.0" y1="465.7" x2="514.6" y2="465.7" stroke="#000" stroke-width="1.8"/>
</g>
</svg>
</body></html>
